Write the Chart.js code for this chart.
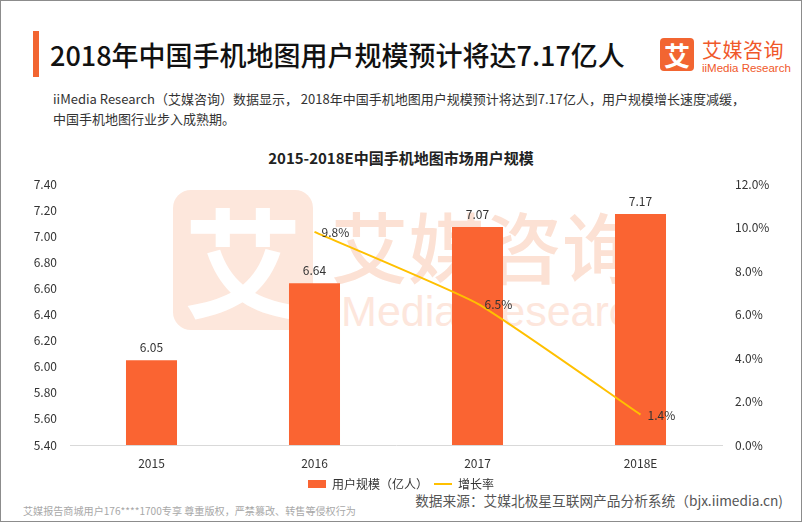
<!DOCTYPE html>
<html>
<head>
<meta charset="utf-8">
<script src="https://cdn.jsdelivr.net/npm/chart.js@4"></script>
<style>
  html, body { margin: 0; padding: 0; background: #fff; }
  body { width: 802px; height: 522px; position: relative; overflow: hidden; font-family: "Noto Sans CJK SC", "Noto Sans", sans-serif; }
  .frame { position: absolute; left: 0; top: 0; width: 800px; height: 520px; border: 1px solid #8c8c8c; z-index: 5; pointer-events: none; }
  .abs { position: absolute; white-space: nowrap; }
  #bar { left: 33px; top: 31px; width: 6px; height: 46px; background: #f26531; }
  #title { left: 50px; top: 35px; font-size: 27px; font-weight: 500; color: #111; line-height: 40px; }
  #sub1, #sub2 { left: 53px; font-size: 13px; color: #333; line-height: 18px; }
  #sub1 { top: 90px; }
  #sub2 { top: 110px; }
  #logoBox { left: 660px; top: 38px; width: 34px; height: 33px; border-radius: 4px; background: #f26531; color: #fff; font-size: 26px; font-weight: 700; text-align: center; line-height: 33px; }
  #logoCn { left: 702px; top: 37px; font-size: 20px; color: #f0582a; line-height: 26px; letter-spacing: 0.5px; }
  #logoEn { left: 702px; top: 61px; font-size: 11.5px; color: #f0582a; line-height: 14px; font-family: "Liberation Sans", Arial, sans-serif; }
  #ctitle { left: 0; width: 802px; text-align: center; top: 147px; font-size: 15px; font-weight: 700; color: #222; line-height: 22px; }
  #wmBox { left: 173px; top: 190px; width: 140px; height: 140px; border-radius: 18px; background: #fde7dc; color: #fff; font-size: 118px; font-weight: 700; text-align: center; line-height: 136px; z-index: 0; }
  #wmCn { left: 331px; top: 190px; font-size: 77px; color: #fce1d4; line-height: 110px; font-weight: 500; z-index: 0; }
  #wmEn { left: 322px; top: 286px; font-size: 43px; color: #fde6dc; line-height: 50px; font-family: "Liberation Sans", Arial, sans-serif; z-index: 0; }
  #src { right: 19px; top: 489px; font-size: 13.7px; color: #555; line-height: 22px; }
  #note { left: 23px; top: 504px; font-size: 10.1px; color: #a8a8a8; line-height: 14px; }
  #wrap { position: absolute; left: 0; top: 0; width: 802px; height: 522px; z-index: 2; }
</style>
</head>
<body>
<div class="abs" id="wmBox">艾</div>
<div class="abs" id="wmCn">艾媒咨询</div>
<div class="abs" id="wmEn">iiMedia Research</div>

<div class="abs" id="bar"></div>
<div class="abs" id="title">2018年中国手机地图用户规模预计将达7.17亿人</div>
<div class="abs" id="logoBox">艾</div>
<div class="abs" id="logoCn">艾媒咨询</div>
<div class="abs" id="logoEn">iiMedia Research</div>
<div class="abs" id="sub1">iiMedia Research（艾媒咨询）数据显示， 2018年中国手机地图用户规模预计将达到7.17亿人，用户规模增长速度减缓，</div>
<div class="abs" id="sub2">中国手机地图行业步入成熟期。</div>
<div class="abs" id="ctitle">2015-2018E中国手机地图市场用户规模</div>

<div id="wrap"><canvas id="chart" width="802" height="522"></canvas></div>

<div class="abs" id="src">数据来源：艾媒北极星互联网产品分析系统（bjx.iimedia.cn)</div>
<div class="abs" id="note">艾媒报告商城用户176****1700专享 尊重版权，严禁篡改、转售等侵权行为</div>
<div class="frame"></div>

<script>
const years = ['2015', '2016', '2017', '2018E'];
const users = [6.05, 6.64, 7.07, 7.17];
const growth = [null, 9.8, 6.5, 1.4];
const userAxis = { min: 5.4, max: 7.4, step: 0.2 };
const growthAxis = { min: 0, max: 12, step: 2 };

const barColor = '#fa6432';
const lineColor = '#ffc000';
const font = '"Noto Sans CJK SC", "Noto Sans", sans-serif';

// value labels above bars and right of line points
const valueLabels = {
    id: 'valueLabels',
    afterDatasetsDraw(chart) {
        const ctx = chart.ctx;
        ctx.save();
        ctx.font = '12px ' + font;
        ctx.fillStyle = '#333';
        chart.data.datasets.forEach((ds, i) => {
            const meta = chart.getDatasetMeta(i);
            meta.data.forEach((el, j) => {
                const v = ds.data[j];
                if (v === null) return;
                ctx.textBaseline = 'middle';
                if (ds.type === 'bar') {
                    ctx.textAlign = 'center';
                    ctx.fillText(v.toFixed(2), el.x, el.y - 13);
                } else {
                    ctx.textAlign = 'left';
                    ctx.fillText(v.toFixed(1) + '%', el.x + 7, el.y + 1);
                }
            });
        });
        ctx.restore();
    }
};

const ctx = document.getElementById('chart').getContext('2d');
const chart = new Chart(ctx, {
    data: {
        labels: years,
        datasets: [
            {
                type: 'bar',
                label: '用户规模（亿人）',
                data: users,
                backgroundColor: barColor,
                yAxisID: 'y',
                categoryPercentage: 1,
                barPercentage: 0.313,
                order: 1
            },
            {
                type: 'line',
                label: '增长率',
                data: growth,
                borderColor: lineColor,
                backgroundColor: lineColor,
                borderWidth: 2,
                pointRadius: 0,
                tension: 0.15,
                yAxisID: 'y1',
                order: 0
            }
        ]
    },
    options: {
        responsive: false,
        devicePixelRatio: 1,
        animation: false,
        layout: { padding: { top: 184, bottom: 22, left: 0, right: 0 } },
        scales: {
            x: {
                grid: { display: false },
                border: { display: true, color: '#d9d9d9', width: 1 },
                ticks: { color: '#333', font: { family: font, size: 12 }, padding: 3 },
                afterFit(scale) { scale.height = 27; }
            },
            y: {
                position: 'left',
                min: userAxis.min,
                max: userAxis.max,
                grid: { display: false },
                border: { display: false },
                ticks: {
                    stepSize: userAxis.step,
                    color: '#333',
                    font: { family: font, size: 12 },
                    padding: 5,
                    callback: v => v.toFixed(2)
                },
                afterFit(scale) { scale.width = 70; }
            },
            y1: {
                position: 'right',
                min: growthAxis.min,
                max: growthAxis.max,
                grid: { display: false },
                border: { display: false },
                ticks: {
                    stepSize: growthAxis.step,
                    color: '#333',
                    font: { family: font, size: 12 },
                    padding: 5,
                    callback: v => v.toFixed(1) + '%'
                },
                afterFit(scale) { scale.width = 80; }
            }
        },
        plugins: {
            legend: {
                position: 'bottom',
                labels: {
                    usePointStyle: true,
                    pointStyleWidth: 18,
                    boxHeight: 8,
                    padding: 6,
                    color: '#333',
                    font: { family: font, size: 12 },
                    generateLabels: c => c.data.datasets.map((ds, i) => ({
                        text: ds.label,
                        fillStyle: ds.backgroundColor,
                        strokeStyle: ds.type === 'line' ? ds.borderColor : ds.backgroundColor,
                        lineWidth: ds.type === 'line' ? 2 : 0,
                        pointStyle: ds.type === 'line' ? 'line' : 'rect',
                        hidden: false,
                        datasetIndex: i,
                        fontColor: '#333'
                    }))
                }
            },
            tooltip: { enabled: false }
        }
    },
    plugins: [valueLabels]
});
</script>
</body>
</html>
